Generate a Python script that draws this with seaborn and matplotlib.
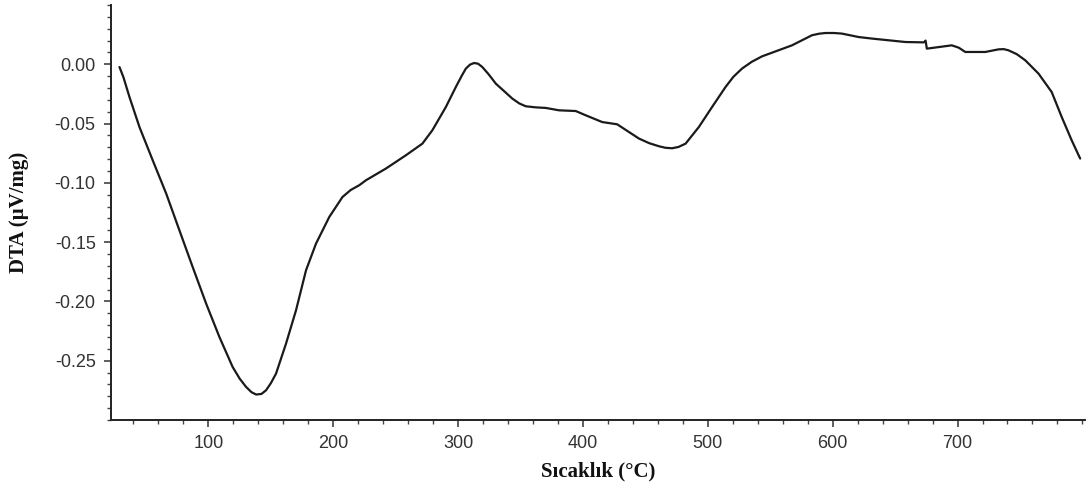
import matplotlib
matplotlib.use("Agg")
import matplotlib.pyplot as plt
from matplotlib.ticker import MultipleLocator
import pandas as pd
import seaborn as sns

# Temperature (°C) and DTA signal (µV/mg)
temperature = [
    28.8, 32.0, 36.8, 44.8, 55.4, 66.2, 76.8, 87.4, 98.2, 108.8, 119.4,
    125.0, 130.2, 134.5, 138.2, 142.5, 146.2, 150.0, 154.2, 162.2, 170.2,
    178.2, 186.2, 196.8, 207.4, 214.0, 220.8, 226.2, 242.2, 258.2, 271.4,
    279.4, 290.2, 298.2, 303.0, 306.2, 309.5, 312.8, 316.0, 319.4, 324.5,
    330.2, 343.4, 349.0, 354.2, 362.0, 370.2, 380.8, 394.2, 402.2, 415.4,
    427.4, 444.8, 453.0, 460.8, 466.0, 471.4, 476.5, 482.2, 492.8, 503.4,
    514.2, 520.5, 527.4, 535.0, 543.4, 567.4, 583.4, 589.0, 594.2, 601.0,
    607.4, 620.8, 631.4, 658.2, 673.0, 674.4, 675.4, 695.4, 701.0, 706.2,
    722.2, 732.8, 737.0, 740.8, 747.5, 754.2, 764.8, 775.4, 783.4, 791.4,
    798.2,
]
dta = [
    -0.0023, -0.0110, -0.0276, -0.0529, -0.0809, -0.1090, -0.1400, -0.1709, -0.2018, -0.2299, -0.2552,
    -0.2650, -0.2721, -0.2765, -0.2785, -0.2780, -0.2749, -0.2690, -0.2608, -0.2355, -0.2074,
    -0.1737, -0.1512, -0.1288, -0.1119, -0.1060, -0.1020, -0.0978, -0.0879, -0.0767, -0.0669,
    -0.0556, -0.0360, -0.0191, -0.0095, -0.0036, -0.0003, 0.0011, 0.0005, -0.0023, -0.0085,
    -0.0163, -0.0289, -0.0330, -0.0354, -0.0363, -0.0368, -0.0388, -0.0394, -0.0430, -0.0487,
    -0.0506, -0.0626, -0.0665, -0.0691, -0.0704, -0.0708, -0.0697, -0.0669, -0.0529, -0.0360,
    -0.0191, -0.0105, -0.0036, 0.0020, 0.0067, 0.0160, 0.0245, 0.0258, 0.0264, 0.0264,
    0.0259, 0.0230, 0.0217, 0.0188, 0.0185, 0.0200, 0.0132, 0.0160, 0.0140, 0.0104,
    0.0104, 0.0126, 0.0128, 0.0118, 0.0085, 0.0034, -0.0078, -0.0234, -0.0444, -0.0641,
    -0.0795,
]

x_label = "Sıcaklık (°C)"
y_label = "DTA (µV/mg)"

df = pd.DataFrame({"T": temperature, "DTA": dta})

sns.set_style("ticks")
plt.rcParams["font.family"] = ["Liberation Sans", "DejaVu Sans"]

fig = plt.figure(figsize=(10.86, 4.92), dpi=100)
ax = fig.add_axes([0.1022, 0.1463, 0.8968, 0.8435])

sns.lineplot(data=df, x="T", y="DTA", ax=ax, color="#1a1a1a", linewidth=1.6,
             sort=False, estimator=None)

ax.set_xlim(22, 802)
ax.set_ylim(-0.30, 0.05)
ax.xaxis.set_minor_locator(MultipleLocator(20))
ax.yaxis.set_minor_locator(MultipleLocator(0.01))
ax.set_xticks([100, 200, 300, 400, 500, 600, 700])
ax.set_yticks([0.0, -0.05, -0.10, -0.15, -0.20, -0.25])
ax.set_yticklabels(["0.00", "-0.05", "-0.10", "-0.15", "-0.20", "-0.25"])

for side in ("top", "right"):
    ax.spines[side].set_visible(False)
for side in ("left", "bottom"):
    ax.spines[side].set_linewidth(1.4)
    ax.spines[side].set_color("#222222")

ax.tick_params(which="major", length=5, width=1.1, color="#333333",
               labelsize=13, labelcolor="#333333", pad=6)
ax.tick_params(which="minor", length=3, width=1.0, color="#444444")

serif_bold = dict(family=["Liberation Serif", "DejaVu Serif"], fontweight="bold",
                  fontsize=15, color="#111111")
ax.set_xlabel(x_label, **serif_bold)
ax.set_ylabel(y_label, **serif_bold)
ax.xaxis.set_label_coords(0.5, -0.10)
ax.yaxis.set_label_coords(-0.084, 0.5)

fig.savefig("out.png", dpi=100, facecolor="white")
